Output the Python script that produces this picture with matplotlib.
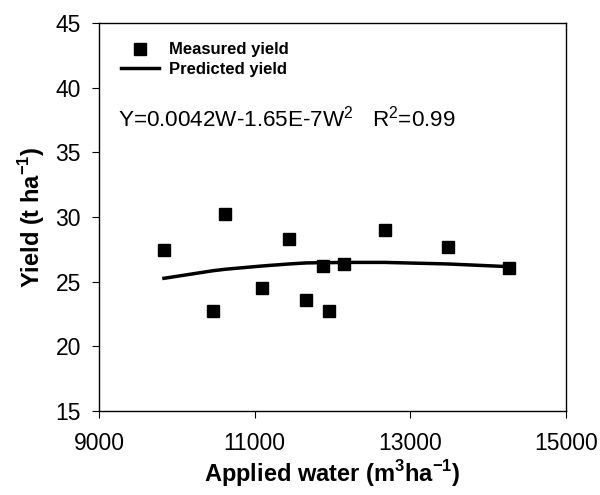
import matplotlib
matplotlib.use("Agg")
import matplotlib.pyplot as plt

plt.rcParams['font.family'] = ['Liberation Sans', 'DejaVu Sans']
plt.rcParams['mathtext.fontset'] = 'custom'
plt.rcParams['mathtext.rm'] = 'Liberation Sans'
plt.rcParams['mathtext.bf'] = 'Liberation Sans:bold'

# measured points
water = [9835, 10469, 10623, 11090, 11445, 11664, 11878, 11955, 12144, 12671, 13480, 14272]
measured = [27.45, 22.76, 30.24, 24.49, 28.28, 23.58, 26.21, 22.76, 26.35, 29.0, 27.66, 26.08]

# fitted curve as drawn (one value per measured water level)
predicted = [25.26, 25.85, 25.96, 26.21, 26.37, 26.45, 26.47, 26.47, 26.49, 26.49, 26.37, 26.16]

x_ticks = [9000, 11000, 13000, 15000]
y_ticks = [15, 20, 25, 30, 35, 40, 45]

fig = plt.figure(figsize=(6.0, 4.95), dpi=100)
ax = fig.add_axes([0.165, 0.1697, 0.778, 0.7838])

ax.plot(water, predicted, color='black', linewidth=2.5, label='Predicted yield', zorder=2)
ax.plot(water, measured, linestyle='none', marker='s', markersize=9, color='black',
        label='Measured yield', zorder=3)

ax.set_xlim(9000, 15000)
ax.set_ylim(15, 45)
ax.set_xticks(x_ticks)
ax.set_yticks(y_ticks)
ax.tick_params(direction='out', length=5, width=0.8, labelsize=16.5)
ax.tick_params(axis='y', pad=8)
ax.tick_params(axis='x', pad=10)
for s in ax.spines.values():
    s.set_linewidth(1.0)

ax.set_xlabel(r'Applied water (m$^\mathbf{3}$ha$^\mathbf{-1}$)', fontsize=17, fontweight='bold', labelpad=2)
ax.set_ylabel(r'Yield (t ha$^\mathbf{-1}$)', fontsize=17, fontweight='bold', labelpad=6)

handles, labels = ax.get_legend_handles_labels()
ax.legend(handles[::-1], labels[::-1], loc='upper left', bbox_to_anchor=(0.047, 0.95),
          frameon=False, borderpad=0, borderaxespad=0, handlelength=2.3,
          handletextpad=0.6, labelspacing=0.25, prop={'size': 12, 'weight': 'bold'})

ax.text(9250, 37.0, r'Y=0.0042W-1.65E-7W$^2$   R$^2$=0.99', fontsize=16.2, va='baseline')

fig.savefig('out.png', dpi=100)
